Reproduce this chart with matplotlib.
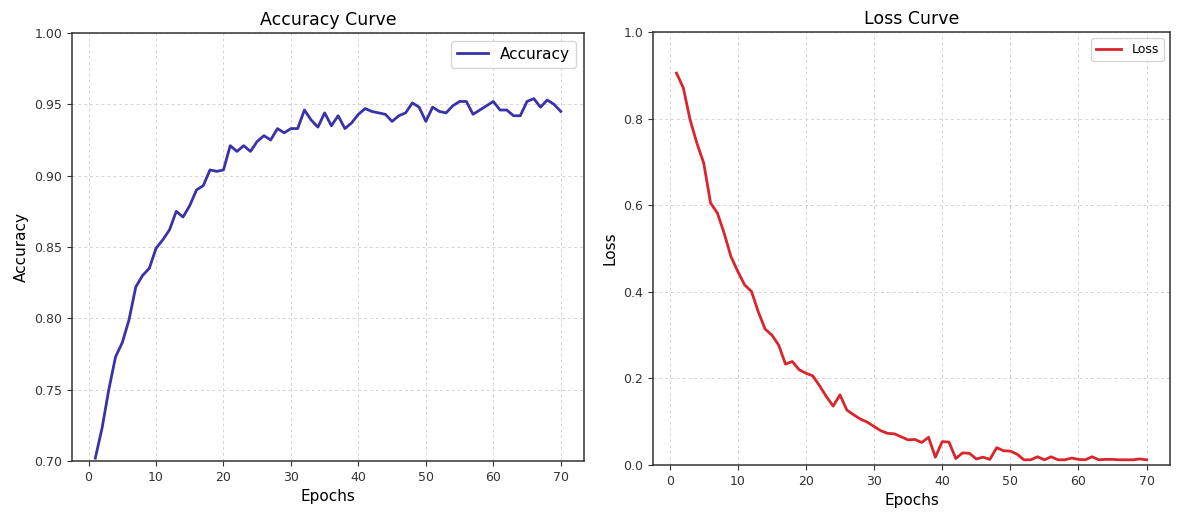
import matplotlib
matplotlib.use("Agg")
import matplotlib.pyplot as plt
import numpy as np

epochs = np.arange(1, 71)

accuracy = [0.702, 0.723, 0.750, 0.773, 0.783, 0.799, 0.822, 0.830, 0.835, 0.849,
            0.855, 0.862, 0.875, 0.871, 0.879, 0.890, 0.893, 0.904, 0.903, 0.904,
            0.921, 0.917, 0.921, 0.917, 0.924, 0.928, 0.925, 0.933, 0.930, 0.933,
            0.933, 0.946, 0.939, 0.934, 0.944, 0.935, 0.942, 0.933, 0.937, 0.943,
            0.947, 0.945, 0.944, 0.943, 0.938, 0.942, 0.944, 0.951, 0.948, 0.938,
            0.948, 0.945, 0.944, 0.949, 0.952, 0.952, 0.943, 0.946, 0.949, 0.952,
            0.946, 0.946, 0.942, 0.942, 0.952, 0.954, 0.948, 0.953, 0.950, 0.945]

loss = [0.905, 0.871, 0.797, 0.743, 0.697, 0.605, 0.582, 0.535, 0.481, 0.447,
        0.416, 0.401, 0.354, 0.314, 0.300, 0.277, 0.233, 0.239, 0.220, 0.212,
        0.206, 0.183, 0.158, 0.136, 0.162, 0.127, 0.116, 0.106, 0.099, 0.089,
        0.079, 0.073, 0.072, 0.065, 0.058, 0.059, 0.052, 0.064, 0.018, 0.054,
        0.053, 0.015, 0.028, 0.027, 0.014, 0.018, 0.013, 0.040, 0.033, 0.032,
        0.025, 0.012, 0.012, 0.019, 0.012, 0.019, 0.012, 0.012, 0.016, 0.013,
        0.012, 0.019, 0.012, 0.013, 0.013, 0.012, 0.012, 0.012, 0.014, 0.012]

fig = plt.figure(figsize=(11.77, 5.12), dpi=100)
ax1 = fig.add_axes([0.0612, 0.0996, 0.435, 0.836])
ax2 = fig.add_axes([0.5548, 0.0918, 0.4393, 0.8457])

ax1.plot(epochs, accuracy, color="#3a32a8", linewidth=2, label="Accuracy")
ax1.set_ylim(0.70, 1.00)
ax1.set_title("Accuracy Curve", fontsize=12.5)
ax1.set_xlabel("Epochs", fontsize=11)
ax1.set_ylabel("Accuracy", fontsize=11)
ax1.legend(loc="upper right", fontsize=11)

ax2.plot(epochs, loss, color="#d9252b", linewidth=2, label="Loss")
ax2.set_ylim(0.0, 1.0)
ax2.set_title("Loss Curve", fontsize=12.5)
ax2.set_xlabel("Epochs", fontsize=11)
ax2.set_ylabel("Loss", fontsize=11)
ax2.legend(loc="upper right", fontsize=9)

for ax in [ax1, ax2]:
    ax.set_xticks(range(0, 71, 10))
    ax.grid(True, linestyle=(0, (3, 3)), color="#d4d4d4", linewidth=0.7)
    ax.tick_params(labelsize=9, colors="#333333")
    for s in ax.spines.values():
        s.set_color("#333333")
        s.set_linewidth(1.1)

plt.savefig("out.png", dpi=100)
